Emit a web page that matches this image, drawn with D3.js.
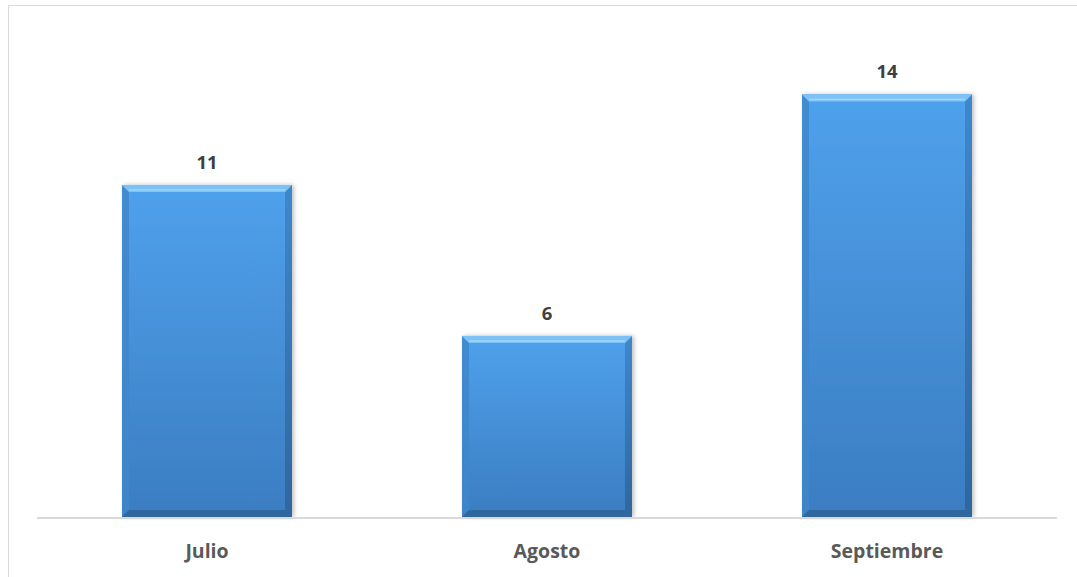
<!DOCTYPE html>
<html>
<head>
<meta charset="utf-8">
<script src="https://cdn.jsdelivr.net/npm/d3@7"></script>
<style>
  html, body { margin: 0; padding: 0; background: #fff; }
  svg { display: block; }
  text { font-family: "Open Sans", Lato, sans-serif; font-weight: bold; }
</style>
</head>
<body>
<div id="chart"></div>
<script>
const categories = ['Julio', 'Agosto', 'Septiembre'];
const values = [11, 6, 14];

const width = 1077, height = 577;
const margin = { top: 34, right: 20, bottom: 60, left: 37 };

const svg = d3.select('#chart')
    .append('svg')
    .attr('width', width)
    .attr('height', height);

// Chart area border (only top & left visible in the crop)
svg.append('path')
    .attr('d', `M8.5,${height} V5.5 H${width}`)
    .attr('fill', 'none')
    .attr('stroke', '#d9d9d9')
    .attr('stroke-width', 1);

const x = d3.scaleBand()
    .domain(categories)
    .range([margin.left, 1057])
    .paddingInner(0.5)
    .paddingOuter(0.25);

const y = d3.scaleLinear()
    .domain([0, 16])
    .range([517, margin.top]);

// Gradients
const defs = svg.append('defs');
const grad = defs.append('linearGradient')
    .attr('id', 'barFill')
    .attr('x1', 0).attr('y1', 0).attr('x2', 0).attr('y2', 1);
grad.append('stop').attr('offset', '0%').attr('stop-color', '#4fa1ec');
grad.append('stop').attr('offset', '100%').attr('stop-color', '#3b7dc1');

const sideGrad = defs.append('linearGradient')
    .attr('id', 'sideFill')
    .attr('x1', 0).attr('y1', 0).attr('x2', 0).attr('y2', 1);
sideGrad.append('stop').attr('offset', '0%').attr('stop-color', '#3f87cc');
sideGrad.append('stop').attr('offset', '100%').attr('stop-color', '#2f669e');

const shadow = defs.append('filter').attr('id', 'shadow')
    .attr('x', '-10%').attr('y', '-10%').attr('width', '130%').attr('height', '120%');
shadow.append('feDropShadow')
    .attr('dx', 2).attr('dy', 0).attr('stdDeviation', 2)
    .attr('flood-color', '#000').attr('flood-opacity', 0.25);

const data = categories.map((c, i) => ({ cat: c, val: values[i] }));
const bev = 7;

const bars = svg.append('g').selectAll('g.bar')
    .data(data)
    .join('g')
    .attr('class', 'bar');

bars.append('rect')
    .attr('x', d => x(d.cat))
    .attr('y', d => y(d.val))
    .attr('width', x.bandwidth())
    .attr('height', d => y(0) - y(d.val))
    .attr('fill', 'url(#barFill)')
    .attr('filter', 'url(#shadow)');

// left bevel
bars.append('path')
    .attr('d', d => {
        const x0 = x(d.cat), y0 = y(d.val), y1 = y(0);
        return `M${x0},${y0} L${x0 + bev},${y0 + bev} L${x0 + bev},${y1 - bev} L${x0},${y1} Z`;
    })
    .attr('fill', '#3f86cb')
    .attr('opacity', 0.8);

// right bevel
bars.append('path')
    .attr('d', d => {
        const x1 = x(d.cat) + x.bandwidth(), y0 = y(d.val), y1 = y(0);
        return `M${x1},${y0} L${x1 - bev},${y0 + bev} L${x1 - bev},${y1 - bev} L${x1},${y1} Z`;
    })
    .attr('fill', 'url(#sideFill)');

// bottom bevel
bars.append('path')
    .attr('d', d => {
        const x0 = x(d.cat), x1 = x0 + x.bandwidth(), y1 = y(0);
        return `M${x0},${y1} L${x0 + bev},${y1 - bev} L${x1 - bev},${y1 - bev} L${x1},${y1} Z`;
    })
    .attr('fill', '#2f679f');

// top bevel (highlight)
bars.append('path')
    .attr('d', d => {
        const x0 = x(d.cat), x1 = x0 + x.bandwidth(), y0 = y(d.val);
        return `M${x0},${y0} L${x1},${y0} L${x1 - bev},${y0 + bev} L${x0 + bev},${y0 + bev} Z`;
    })
    .attr('fill', '#7cc2f6');

bars.append('line')
    .attr('x1', d => x(d.cat) + bev)
    .attr('x2', d => x(d.cat) + x.bandwidth() - bev)
    .attr('y1', d => y(d.val) + bev - 2)
    .attr('y2', d => y(d.val) + bev - 2)
    .attr('stroke', '#9fd6fb')
    .attr('stroke-width', 1.5);

// value labels
bars.append('text')
    .attr('x', d => x(d.cat) + x.bandwidth() / 2)
    .attr('y', d => y(d.val) - 16)
    .attr('text-anchor', 'middle')
    .attr('font-size', 18.5)
    .attr('fill', '#404040')
    .text(d => d.val);

// x axis
const xAxis = svg.append('g')
    .attr('transform', `translate(0,${y(0)})`)
    .call(d3.axisBottom(x).tickSize(0).tickPadding(27));
xAxis.select('.domain')
    .attr('stroke', '#d9d9d9')
    .attr('stroke-width', 2)
    .attr('d', `M${margin.left},1 H1057`);
xAxis.selectAll('text')
    .attr('font-size', 19.5)
    .attr('font-family', '"Open Sans", Lato, sans-serif')
    .attr('font-weight', 'bold')
    .attr('fill', '#595959');
</script>
</body>
</html>
